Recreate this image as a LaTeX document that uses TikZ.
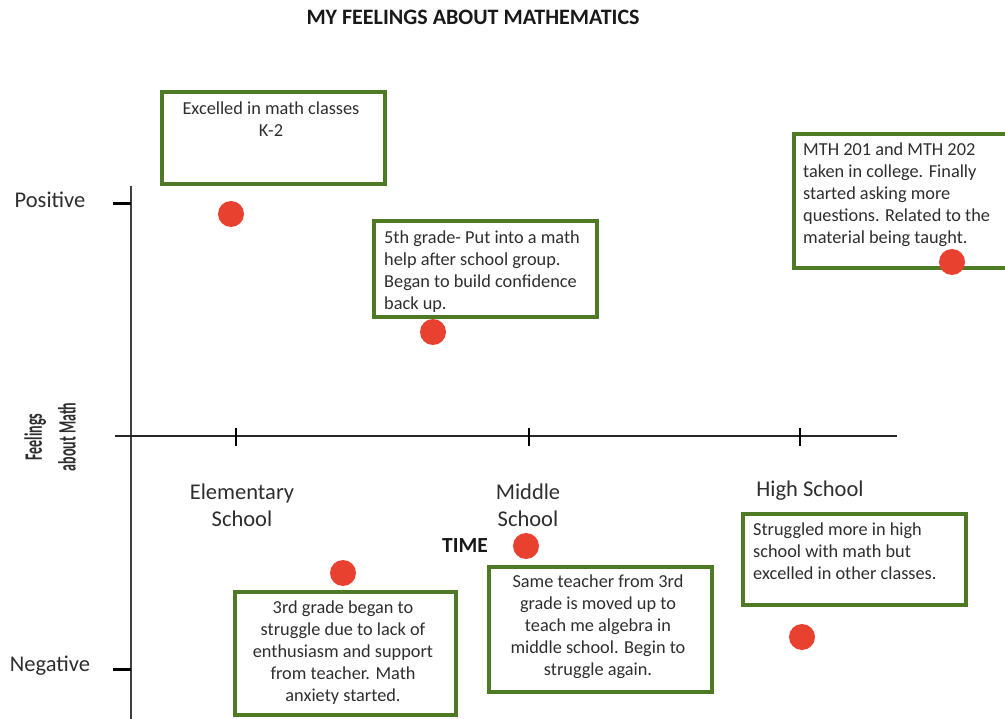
\documentclass[tikz,border=0pt]{standalone}
\usepackage{fontspec}
\setmainfont{Carlito}
\usepackage{graphicx}
\definecolor{boxgreen}{HTML}{4E7A25}
\definecolor{dotred}{HTML}{E8412F}
\definecolor{inkgray}{HTML}{2E2E2E}
\tikzset{
  axisline/.style={line width=2.6pt, draw=black!85},
  tickmark/.style={line width=3pt, draw=black},
  notebox/.style={draw=boxgreen, line width=4.2pt, rectangle, inner sep=0pt, anchor=north west},
  notetext/.style={inner sep=0pt, text=inkgray, font=\fontsize{18.3}{21.8}\selectfont},
  reddot/.style={circle, fill=dotred, minimum size=26pt, inner sep=0pt},
  stagelabel/.style={inner sep=0pt, text=inkgray, align=center, font=\fontsize{22.5}{27}\selectfont},
}
\begin{document}
\begin{tikzpicture}[x=1pt, y=-1pt]
\useasboundingbox (0,0) rectangle (1005,719);

% title
\node[inner sep=0pt, font=\fontsize{22}{24}\selectfont\bfseries, text=black!90] (title) at (473,17) {MY FEELINGS ABOUT MATHEMATICS};

% axes
\coordinate (ytop) at (131,186);
\coordinate (ybot) at (131,722);
\coordinate (xleft) at (115,436);
\coordinate (xright) at (897,436);
\draw[axisline, draw=black!75, line width=2.3pt] (ytop) -- (ybot);
\draw[axisline] (xleft) -- (xright);

% ticks on the feelings axis
\coordinate (posA) at (113,204);
\coordinate (posB) at (131,204);
\coordinate (negA) at (113,669);
\coordinate (negB) at (131,669);
\draw[tickmark] (posA) -- (posB);
\draw[tickmark] (negA) -- (negB);

% ticks on the time axis
\foreach \tx/\nm in {236/te, 529/tm, 800/th} {
  \coordinate (\nm a) at (\tx,428);
  \coordinate (\nm b) at (\tx,446);
  \draw[tickmark, line width=2.6pt] (\nm a) -- (\nm b);
}

% axis labels
\node[stagelabel] (positive) at (50,200) {Positive};
\node[stagelabel] (negative) at (50,666) {Negative};
\node[stagelabel] (elem) at (242,505) {Elementary\\School};
\node[stagelabel] (middle) at (528,505) {Middle\\School};
\node[stagelabel] (high) at (810,491) {High School};
\node[inner sep=0pt, font=\fontsize{21.5}{24}\selectfont\bfseries, text=black!90] (time) at (465,546) {TIME};
\node[inner sep=0pt, rotate=90, text=inkgray] (feel) at (52,437)
  {\scalebox{0.56}[1]{\fontsize{25}{25}\selectfont\bfseries\renewcommand\arraystretch{1.35}\begin{tabular}{@{}c@{}}Feelings\\about Math\end{tabular}}};

% note boxes
\node[notebox, minimum width=223pt, minimum height=92pt] (b1) at (160,90) {};
\node[notebox, minimum width=223pt, minimum height=96pt] (b2) at (372,219) {};
\node[notebox, minimum width=222pt, minimum height=134pt] (b3) at (792,132) {};
\node[notebox, minimum width=221pt, minimum height=123pt] (b4) at (233,590) {};
\node[notebox, minimum width=223pt, minimum height=125pt] (b5) at (487,565) {};
\node[notebox, minimum width=223pt, minimum height=91pt] (b6) at (741,512) {};

% note texts
\node[notetext, anchor=north, align=center] (t1) at (271,102) {Excelled in math classes\\K-2};
\node[notetext, anchor=north west, align=left] (t2) at (384,231) {5th grade- Put into a math\\help after school group.\\Began to build confidence\\back up.};
\node[notetext, anchor=north west, align=left] (t3) at (803,143) {MTH 201 and MTH 202\\taken in college. Finally\\started asking more\\questions. Related to the\\material being taught.};
\node[notetext, anchor=north, align=center] (t4) at (343,601) {3rd grade began to\\struggle due to lack of\\enthusiasm and support\\from teacher. Math\\anxiety started.};
\node[notetext, anchor=north, align=center] (t5) at (598,575) {Same teacher from 3rd\\grade is moved up to\\teach me algebra in\\middle school. Begin to\\struggle again.};
\node[notetext, anchor=north west, align=left] (t6) at (753,523) {Struggled more in high\\school with math but\\excelled in other classes.};

% feeling points
\node[reddot] (d1) at (231,214) {};
\node[reddot] (d2) at (433,332) {};
\node[reddot] (d3) at (952,262) {};
\node[reddot] (d4) at (343,573) {};
\node[reddot] (d5) at (526,546) {};
\node[reddot] (d6) at (802,637) {};
\end{tikzpicture}
\end{document}
